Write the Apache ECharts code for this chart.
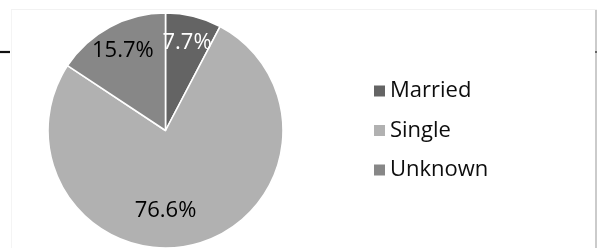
<!DOCTYPE html>
<html>
<head>
<meta charset="utf-8">
<script src="https://cdn.jsdelivr.net/npm/echarts@6/dist/echarts.min.js"></script>
<style>
html,body{margin:0;padding:0;background:#fff;}
#chart{width:597px;height:248px;}
</style>
</head>
<body>
<div id="chart"></div>
<script>
var categories = ['Married', 'Single', 'Unknown'];
var values = [7.7, 76.6, 15.7];
var colors = ['#646464', '#b1b1b1', '#878787'];
var labelColors = ['#ffffff', '#000000', '#000000'];

var CX = 165.5, CY = 130.5, R = 117.5, LABEL_R = 90;

var chart = echarts.init(document.getElementById('chart'), null, {renderer: 'canvas'});
var data = categories.map(function (c, i) {
  return {
    name: c,
    value: values[i],
    itemStyle: {color: colors[i]},
    label: {color: labelColors[i]}
  };
});

chart.setOption({
  animation: false,
  backgroundColor: '#ffffff',
  legend: {
    orient: 'vertical',
    left: 367,
    top: 75,
    icon: 'rect',
    itemWidth: 13,
    itemHeight: 13,
    itemGap: 17.5,
    data: categories,
    textStyle: {
      fontFamily: 'Open Sans',
      fontSize: 22,
      color: '#0d0d0d',
      lineHeight: 22,
      padding: [0, 0, 0, -1]
    }
  },
  graphic: [
    {type: 'line', shape: {x1: 11.5, y1: 10, x2: 11.5, y2: 248}, style: {stroke: '#f4f4f4', lineWidth: 1}},
    {type: 'line', shape: {x1: 11, y1: 9.5, x2: 597, y2: 9.5}, style: {stroke: '#f2f2f2', lineWidth: 1}},
    {type: 'line', shape: {x1: 596, y1: 10, x2: 596, y2: 248}, style: {stroke: '#a8a8a8', lineWidth: 1.2}},
    {type: 'line', shape: {x1: 0, y1: 52, x2: 10, y2: 52}, style: {stroke: '#111', lineWidth: 2.2}},
    {type: 'line', shape: {x1: 595, y1: 52, x2: 597, y2: 52}, style: {stroke: '#666', lineWidth: 2}}
  ],
  series: [{
    type: 'pie',
    center: [CX, CY],
    radius: [0, R],
    startAngle: 90,
    clockwise: true,
    avoidLabelOverlap: false,
    data: data,
    itemStyle: {borderColor: '#ffffff', borderWidth: 1.6},
    label: {
      show: true,
      position: 'inside',
      formatter: function (p) { return p.value.toFixed(1) + '%'; },
      fontFamily: 'Open Sans',
      fontSize: 22
    },
    labelLine: {show: false},
    labelLayout: function (p) {
      var lx = p.labelRect.x + p.labelRect.width / 2;
      var ly = p.labelRect.y + p.labelRect.height / 2;
      var vx = lx - CX, vy = ly - CY;
      var len = Math.sqrt(vx * vx + vy * vy) || 1;
      var tx, ty;
      if (p.dataIndex === 1) {
        tx = CX; ty = CY + 80;
      } else {
        tx = CX + vx / len * LABEL_R;
        ty = CY + vy / len * LABEL_R;
      }
      return {dx: tx - lx, dy: ty - ly};
    },
    emphasis: {disabled: true}
  }]
});
</script>
</body>
</html>
